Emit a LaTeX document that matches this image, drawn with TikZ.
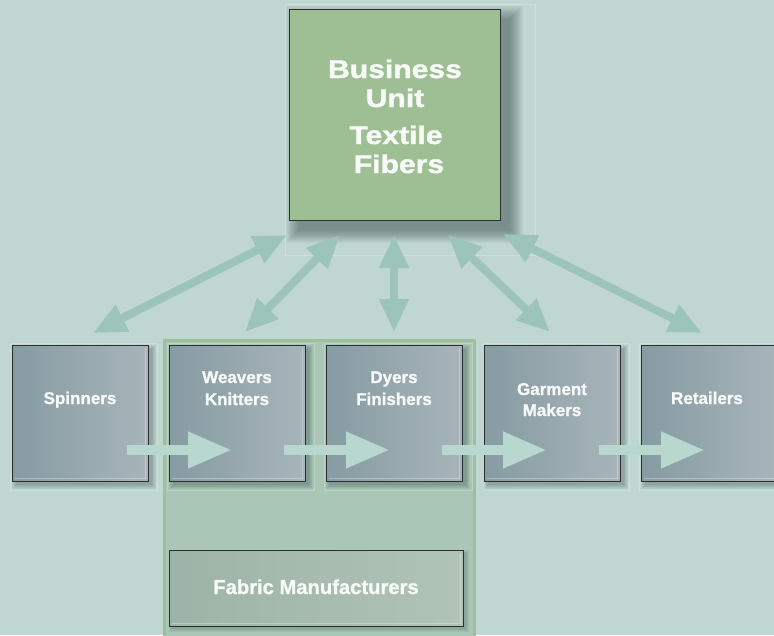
\documentclass[tikz,border=0pt]{standalone}
\usepackage{fontspec}
\setmainfont{Liberation Sans}
\newfontfamily\headfont[FakeStretch=1.18, FakeBold=1.6]{Liberation Sans Bold}
\newfontfamily\stagefont[FakeBold=1.1]{Liberation Sans Bold}
\usetikzlibrary{arrows.meta}

\definecolor{bgcol}{HTML}{C0D7D1}
\definecolor{unitfill}{HTML}{9EBF94}
\definecolor{stageL}{HTML}{869BA2}
\definecolor{stageR}{HTML}{A7B5BA}
\definecolor{panelfill}{HTML}{A9C6B6}
\definecolor{panelrim}{HTML}{9DC09C}
\definecolor{fabL}{HTML}{9CB4A7}
\definecolor{fabR}{HTML}{B0C3B6}
\definecolor{linkcol}{HTML}{9DC4B9}
\definecolor{flowcol}{HTML}{B8D7CE}
\definecolor{edgecol}{HTML}{2E2E2E}
\definecolor{shadowcol}{HTML}{3E5855}
\definecolor{txtcol}{HTML}{F7FAF7}

% soft shadow: x1 y1 x2 y2 offset radius opacity
\newcommand\softshadow[7]{%
  \foreach \k in {0,...,#6}{%
    \fill[shadowcol, opacity=#7]
      ({#1+#5-#6+\k},{#2+#5-#6+\k}) rectangle ({#3+#5+#6-\k},{#4+#5+#6-\k});
  }}

\tikzset{
  unitbox/.style={draw=edgecol, line width=1pt, fill=unitfill, inner sep=0pt},
  stagebox/.style={draw=edgecol, line width=1pt, left color=stageL, right color=stageR,
    minimum width=136pt, minimum height=136pt, inner sep=0pt},
  fabbox/.style={draw=edgecol, line width=1pt, left color=fabL, right color=fabR,
    minimum width=294pt, minimum height=76pt, inner sep=0pt},
  panelbox/.style={draw=panelrim, line width=2.5pt, fill=panelfill, inner sep=0pt},
  headtxt/.style={text=txtcol, font=\headfont\fontsize{25.5}{29}\selectfont, anchor=base, inner sep=0pt},
  stagetxt/.style={text=txtcol, font=\stagefont\fontsize{17}{20}\selectfont, anchor=base, inner sep=0pt},
  fabtxt/.style={text=txtcol, font=\stagefont\fontsize{20.2}{22}\selectfont, anchor=base, inner sep=0pt},
  cellframe/.style={draw=white, draw opacity=0.2, line width=0.8pt},
  bevel/.style={draw=white, draw opacity=0.3, line width=1pt},
  linkarrow/.style={draw=linkcol, line width=8pt,
    {Triangle[length=33pt 0, width=28pt 0]}-{Triangle[length=33pt 0, width=28pt 0]}},
  flowarrow/.style={draw=flowcol, line width=10pt, line cap=butt,
    -{Triangle[length=44pt 0, width=34pt 0]}},
}

\begin{document}
\begin{tikzpicture}[x=1pt,y=-1pt]
  \fill[bgcol] (0,0) rectangle (774,635);
  \useasboundingbox (0,0) rectangle (774,635);

  % faint cell frames
  \draw[cellframe] (285,4) rectangle (535,255);
  \draw[cellframe] (10,343) rectangle (157,490);
  \draw[cellframe] (484,343) rectangle (629,490);
  \draw[cellframe] (639,343) rectangle (790,490);

  % fabric manufacturing group
  \node[panelbox, minimum width=310pt, minimum height=300pt, anchor=north west] (panel) at (163,339) {};
  \draw[cellframe] (167,343) rectangle (314,490);
  \draw[cellframe] (324,343) rectangle (472,490);

  % shadows
  \softshadow{289}{9}{500}{220}{10}{13}{0.05}
  \softshadow{12}{345}{148}{481}{4}{4}{0.09}
  \softshadow{169}{345}{305}{481}{4}{4}{0.09}
  \softshadow{326}{345}{462}{481}{4}{4}{0.09}
  \softshadow{484}{345}{620}{481}{4}{4}{0.09}
  \softshadow{641}{345}{777}{481}{4}{4}{0.09}
  \softshadow{169}{550}{463}{626}{3}{3}{0.08}

  % business unit
  \node[unitbox, minimum width=211pt, minimum height=211pt] (unit) at (394.5,114.5) {};
  \node[headtxt] (unitA) at (395,78) {Business};
  \node[headtxt] (unitB) at (395,107) {Unit};
  \node[headtxt] (unitC) at (396,144) {Textile};
  \node[headtxt] (unitD) at (399,173) {Fibers};

  % value chain stages
  \node[stagebox] (spin) at (80,413) {};
  \node[stagebox] (weave) at (237,413) {};
  \node[stagebox] (dye) at (394,413) {};
  \node[stagebox] (garm) at (552,413) {};
  \node[stagebox] (ret) at (709,413) {};
  \foreach \n in {spin,weave,dye,garm,ret}{
    \draw[bevel] ([xshift=3pt,yshift=3pt]\n.south west) -- ([xshift=-3pt,yshift=3pt]\n.south east)
      -- ([xshift=-3pt,yshift=-3pt]\n.north east);
  }
  \node[stagetxt] (spinT) at (80,404) {Spinners};
  \node[stagetxt] (weaveA) at (237,383) {Weavers};
  \node[stagetxt] (weaveB) at (237,405) {Knitters};
  \node[stagetxt] (dyeA) at (394,383) {Dyers};
  \node[stagetxt] (dyeB) at (394,405) {Finishers};
  \node[stagetxt] (garmA) at (552,395) {Garment};
  \node[stagetxt] (garmB) at (552,416) {Makers};
  \node[stagetxt] (retT) at (707,404) {Retailers};

  % fabric manufacturers
  \node[fabbox] (fab) at (316,588) {};
  \draw[bevel] ([xshift=3pt,yshift=3pt]fab.south west) -- ([xshift=-3pt,yshift=3pt]fab.south east)
      -- ([xshift=-3pt,yshift=-3pt]fab.north east);
  \node[fabtxt] (fabT) at (316,594) {Fabric Manufacturers};

  % links between the business unit and each stage
  \coordinate (uSpin) at (287,235);  \coordinate (sSpin) at (93,333);
  \coordinate (uWeave) at (340,235); \coordinate (sWeave) at (245,332);
  \coordinate (uDye) at (394,235);   \coordinate (sDye) at (394,332);
  \coordinate (uGarm) at (448,235);  \coordinate (sGarm) at (550,332);
  \coordinate (uRet) at (503,234);   \coordinate (sRet) at (702,333);
  \draw[linkarrow] (uSpin) -- (sSpin);
  \draw[linkarrow] (uWeave) -- (sWeave);
  \draw[linkarrow] (uDye) -- (sDye);
  \draw[linkarrow] (uGarm) -- (sGarm);
  \draw[linkarrow] (uRet) -- (sRet);

  % material flow along the chain
  \coordinate (f1a) at (127,450); \coordinate (f1b) at (232,450);
  \coordinate (f2a) at (284,450); \coordinate (f2b) at (390,450);
  \coordinate (f3a) at (442,450); \coordinate (f3b) at (547,450);
  \coordinate (f4a) at (599,450); \coordinate (f4b) at (705,450);
  \draw[flowarrow] (f1a) -- (f1b);
  \draw[flowarrow] (f2a) -- (f2b);
  \draw[flowarrow] (f3a) -- (f3b);
  \draw[flowarrow] (f4a) -- (f4b);
\end{tikzpicture}
\end{document}
